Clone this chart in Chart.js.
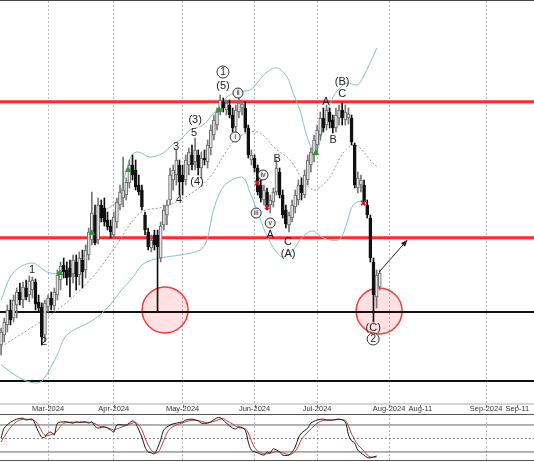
<!DOCTYPE html>
<html>
<head>
<meta charset="utf-8">
<script src="https://cdn.jsdelivr.net/npm/chart.js@4.4.1/dist/chart.umd.min.js"></script>
<style>
  html, body { margin: 0; padding: 0; background: #fff; }
  #wrap { position: relative; width: 534px; height: 462px; overflow: hidden; }
  #mainBox { position: absolute; left: 0; top: 0; width: 534px; height: 403px; border-top: 1px solid #444; box-sizing: border-box; }
  #stochBox { position: absolute; left: 0; top: 403px; width: 534px; height: 59px; }
  canvas { display: block; }
</style>
</head>
<body>
<div id="wrap">
  <div id="mainBox"><canvas id="mainChart" width="534" height="402"></canvas></div>
  <div id="stochBox"><canvas id="stochChart" width="534" height="59"></canvas></div>
</div>
<script>
// daily candles, bar index 0 = first visible day (Feb 9 2024)
const opens = [15.5,16.5,17.5,19.0,18.2,19.5,20.8,20.0,21.2,20.5, 21.0,21.8,19.8,19.3,16.5,19.3,20.2,19.4,20.5,22.0,
  23.5,23.0,23.2,22.6,23.8,22.5,24.0,23.0,24.5,26.0, 28.5,26.0,29.5,29.2,28.0,27.4,26.5,27.8,29.5,30.2,
  30.5,31.7,33.5,33.0,31.5,31.0,28.5,26.8,25.2,26.5, 26.5,24.2,27.5,28.5,30.0,32.0,32.5,33.5,32.5,32.0,
  33.5,34.5,33.8,34.5,33.2,34.2,33.8,35.2,36.5,37.5, 39.0,39.8,39.0,39.5,38.5,37.3,38.8,39.2,39.2,37.2,
  34.0,34.2,33.2,31.5,30.0,30.8,29.5,29.8,30.8,32.8, 30.5,29.0,27.5,28.2,29.3,30.0,31.5,30.5,32.0,33.5,
  34.5,35.5,36.5,38.2,37.5,38.8,38.0,37.2,38.2,39.0, 38.0,38.2,38.2,35.5,31.2,31.5,31.5,29.5,28.2,23.8,
  20.3,21.3];
const highs = [17.2,18.2,19.5,20.0,20.5,21.2,21.7,21.8,22.0,22.4, 22.3,22.1,20.5,19.7,20.0,20.5,20.8,21.2,23.0,23.8,
  24.2,23.8,24.0,24.5,24.5,24.8,25.0,25.5,27.2,30.8, 29.5,30.2,30.0,30.2,28.8,28.0,28.8,30.2,31.5,34.3,
  32.2,34.0,34.5,34.0,32.5,31.5,28.8,27.2,26.5,27.0, 27.0,27.8,29.5,30.0,33.2,33.5,35.0,34.0,33.5,34.5,
  35.2,35.5,36.2,35.0,34.8,35.0,36.0,37.5,38.5,39.2, 40.5,40.2,40.0,40.0,39.2,39.5,40.2,40.0,39.8,37.5,
  35.0,34.5,33.5,32.0,31.5,31.2,30.5,31.2,34.0,33.2, 31.0,29.5,28.8,30.0,31.0,32.0,32.2,33.0,34.5,35.2,
  36.5,37.5,38.8,39.2,39.5,39.2,38.5,39.2,39.5,39.7, 39.5,39.2,38.5,35.7,32.8,32.5,32.0,30.0,28.5,24.2,
  23.0,23.0];
const lows = [14.5,15.8,16.8,17.5,17.8,18.2,19.5,19.2,20.0,19.8, 20.2,19.0,18.8,15.5,15.8,18.8,19.0,19.0,20.0,21.0,
  22.2,21.5,20.3,21.7,21.0,21.5,21.2,22.2,24.0,25.5, 25.5,25.6,27.8,27.4,27.0,26.2,26.1,27.2,29.0,29.3,
  30.0,31.2,32.0,31.0,30.5,29.0,26.5,25.0,24.8,25.0, 18.8,23.8,27.0,27.5,29.5,31.0,31.5,30.5,30.5,31.5,
  32.5,33.0,33.0,32.5,32.2,33.5,33.2,34.5,36.0,37.0, 38.5,38.8,38.5,38.2,36.8,36.5,38.2,38.5,36.8,34.2,
  33.5,32.8,30.5,29.8,29.5,29.0,28.7,29.3,30.5,30.2, 28.2,27.2,26.8,27.8,28.7,29.5,30.0,30.2,31.5,32.8,
  33.8,34.5,36.0,36.8,37.0,37.2,36.7,36.8,37.5,37.5, 37.5,37.6,35.5,31.2,30.7,30.8,29.5,28.2,23.8,17.8,
  19.2,21.0];
const closes = [16.8,17.8,19.0,18.0,20.0,20.8,20.0,21.3,20.3,21.9, 22.0,19.6,19.2,16.3,19.7,20.2,19.5,20.8,22.5,23.4,
  22.8,22.2,22.3,24.0,22.3,24.2,22.8,25.0,26.8,28.7, 25.7,29.5,28.2,27.8,27.3,26.8,28.3,29.8,30.8,31.0,
  31.8,33.5,32.5,31.3,30.8,29.3,27.0,25.3,26.0,25.5, 25.3,27.4,29.0,29.5,32.5,33.0,34.0,31.8,31.8,34.0,
  34.8,33.5,35.0,33.2,34.2,34.0,35.5,37.0,38.0,38.8, 40.0,39.2,39.7,38.5,37.2,39.0,39.7,39.6,37.2,34.5,
  34.5,33.2,30.8,30.2,31.0,29.3,30.0,30.8,33.2,30.5, 28.5,27.6,28.5,29.5,30.5,31.5,30.7,32.5,34.0,34.8,
  36.0,37.0,38.2,37.2,39.0,37.8,37.2,38.5,39.0,38.2, 38.8,38.6,35.8,31.5,32.2,32.0,29.8,28.5,24.2,20.5,
  22.5,22.7];

// Bollinger bands (bar index, price)
const upperDay = [0,3.8,9.9,14.7,18.2,22.7,26.2,27.8,30.7,34.8,37.4,39.6,41.8,43.8,47.6,51.8,54.6,57.2,60.4,64.5,67.7,70,72.2,75.4,79.6,81.8,85,88.2,91.4,93.3,95.5,97.8,99.7,101,102,104.2,106.1,108.3,110.6,113.8,115.7,117.9,120.1];
const upperVal = [20.0,22.7,23.7,22.8,22.7,23.5,24.3,26.0,28.3,29.3,30.0,32.5,34.5,34.8,34.3,34.7,35.5,36.0,37.0,37.5,38.6,39.4,40.3,40.8,41.0,41.7,42.8,43.2,42.3,40.7,39.0,36.3,35.0,35.0,36.0,38.7,40.3,41.2,41.7,41.5,42.3,43.7,45.2];
const midDay = [0,17.9,28.4,35.8,44.4,51.8,57.2,63.6,67.7,72.2,75.4,79.6,82.8,87.5,92.3,96.5,99.7,102,105.1,109.3,112.5,114.7,117.9,120.1];
const midVal = [15.3,19.0,22.0,25.0,28.7,29.3,30.0,31.3,32.7,35.0,36.2,36.8,36.7,35.2,34.0,32.0,31.0,31.3,32.3,34.7,35.5,35.2,34.0,33.3];
const lowerDay = [0,6,10.8,13.4,17.9,21,28.4,31.6,34.8,38,42.2,45.4,50.8,57.2,63.6,65.8,67.7,70,72.2,76.4,78,79.6,81.8,84.4,87.5,90,93.3,95.5,97.8,99.7,102,105.1,108.3,110.6,112.5,115.4,116.6];
const lowerVal = [13.5,12.2,11.7,12.0,14.5,16.5,17.8,18.5,19.5,20.8,22.3,23.6,24.2,24.5,25.0,26.0,28.8,30.8,31.7,32.3,32.0,30.7,29.0,26.8,25.0,24.3,25.0,26.0,26.7,26.9,26.4,26.0,26.1,27.8,29.5,29.9,29.5];

// horizontal levels
const redLevels = [39.83, 26.23];
const blackLevels = [18.8, 11.9];

// highlighted lows (circles) and the projection arrow
const circleDay = [52.4, 120.8];
const circlePrice = [19.0, 18.9];
const arrowDay = [120.8, 129.8];
const arrowPrice = [22.8, 26.0];

// small signal markers
const buyDay = [18.8, 29.0, 40.6, 69.7, 100.6];
const buyPrice = [22.7, 26.7, 33.0, 39.0, 34.7];
const sellDay = [81.8, 85.0, 115.7];
const sellPrice = [31.7, 29.3, 29.7];

// Elliott wave labels: ring 0 = none, 1 = large circle, 2 = small circle
const waveText = ['1','2','3','4','5','(3)','(4)','(5)','1','ii','i','iii','iv','v','A','B','C','(A)','A','B','C','(B)','(C)','2'];
const waveDay = [9.9,13.7,55.9,56.9,61.7,62.0,62.6,70.9,70.9,75.7,74.8,81.5,83.7,86.0,86.0,88.2,91.7,91.7,103.8,106.1,109.0,109.0,118.9,118.9];
const wavePrice = [23.0,15.8,35.3,30.0,36.7,38.0,31.8,41.4,42.8,40.7,36.3,28.7,32.5,27.7,26.5,34.1,25.8,24.6,39.8,36.0,40.6,41.8,17.2,16.1];
const waveRing = [0,0,0,0,0,0,0,0,1,2,2,2,2,2,0,0,0,0,0,0,0,0,0,1];

// time axis
const tickDays = [15, 36, 58, 81, 101, 124, 134, 155, 165];
const tickLabels = ['Mar-2024','Apr-2024','May-2024','Jun-2024','Jul-2024','Aug-2024','Aug-11','Sep-2024','Sep-11'];

// stochastic oscillator
const kDay = [0,1,3,5,7,8,10,11,12,13,14,15,16,17,18,20,21,23,24,25,27,28,29,30,31,33,35,36,37,40,42,43,44,45,46,47,48,49,50,51,52,54,56,58,59,61,63,64,66,67,69,70,71,72,74,75,76,78,79,80,82,84,85,86,87,89,90,92,93,94,95,96,98,99,101,103,104,106,108,110,111,112,113,114,116,117,118,119,120];
const kVal = [51,73,86,93,95,91,93,80,64,53,53,62,64,58,84,87,87,84,87,86,87,84,87,77,73,76,69,64,80,80,89,84,69,53,31,20,18,16,29,47,69,80,84,87,91,93,89,84,84,87,96,96,91,84,73,71,76,69,42,24,18,13,20,18,27,20,13,13,20,31,51,62,73,84,91,93,91,91,93,87,58,45,40,24,13,8,7,9,11];
const dDay = [0,2,4,6,8,10,11,12,13,14,15,16,17,18,19,20,22,24,26,28,29,30,31,32,34,36,37,38,40,42,43,44,45,46,47,48,49,50,51,52,53,54,56,58,60,62,64,66,68,70,71,72,74,76,78,79,80,81,82,84,86,88,90,92,93,94,95,96,98,100,102,104,106,108,110,111,112,113,114,116,117,118,119,120];
const dVal = [42,65,82,91,93,91,88,79,66,57,56,59,61,68,77,84,86,86,86,86,85,83,79,76,74,69,71,74,79,84,86,80,69,51,35,24,18,18,29,46,62,72,80,85,89,91,88,85,88,93,94,90,82,74,72,62,45,30,22,16,17,21,18,14,16,22,33,48,64,78,88,91,91,92,90,78,60,47,36,22,13,9,8,9];

const X_MIN = -0.35, X_MAX = 170.3;
const idx = opens.map((_, i) => i);
const isBull = i => closes[i] >= opens[i];
const pts = (xs, ys) => xs.map((x, i) => ({x: x, y: ys[i]}));
const across = v => [{x: X_MIN - 1, y: v}, {x: X_MAX + 1, y: v}];
const isMonth = v => { const k = tickDays.indexOf(v); return k >= 0 && tickLabels[k].endsWith('2024'); };

const FONT = "'Liberation Sans', Arial, sans-serif";

const hLines = [];
redLevels.forEach(v => hLines.push({type: 'line', data: across(v), borderColor: '#ff2a2a', borderWidth: 3, pointRadius: 0, order: 9}));
blackLevels.forEach(v => hLines.push({type: 'line', data: across(v), borderColor: '#111', borderWidth: 2, pointRadius: 0, order: 9}));

const waveLabels = {
  id: 'waveLabels',
  afterDatasetsDraw(chart) {
    const {ctx, scales: {x, y}} = chart;
    ctx.save();
    ctx.textAlign = 'center';
    ctx.textBaseline = 'middle';
    waveText.forEach((t, i) => {
      const px = x.getPixelForValue(waveDay[i]);
      const py = y.getPixelForValue(wavePrice[i]);
      if (waveRing[i]) {
        const r = waveRing[i] === 1 ? 6 : 5;
        ctx.beginPath();
        ctx.arc(px, py, r, 0, Math.PI * 2);
        ctx.fillStyle = waveRing[i] === 1 ? '#fff' : '#f2f2f2';
        ctx.fill();
        ctx.lineWidth = 1;
        ctx.strokeStyle = '#333';
        ctx.stroke();
        ctx.fillStyle = '#222';
        ctx.font = (waveRing[i] === 1 ? '10px ' : '7px ') + FONT;
        ctx.fillText(t, px, py + 0.5);
      } else {
        ctx.fillStyle = '#222';
        ctx.font = '11px ' + FONT;
        ctx.fillText(t, px, py);
      }
    });
    ctx.restore();
  }
};

const arrowHead = {
  id: 'arrowHead',
  afterDatasetsDraw(chart) {
    const meta = chart.getDatasetMeta(chart.data.datasets.findIndex(d => d.label === 'arrow'));
    const a = meta.data[0], b = meta.data[1];
    const ang = Math.atan2(b.y - a.y, b.x - a.x);
    const {ctx} = chart;
    ctx.save();
    ctx.fillStyle = '#222';
    ctx.beginPath();
    ctx.moveTo(b.x, b.y);
    ctx.lineTo(b.x - 7 * Math.cos(ang - 0.4), b.y - 7 * Math.sin(ang - 0.4));
    ctx.lineTo(b.x - 7 * Math.cos(ang + 0.4), b.y - 7 * Math.sin(ang + 0.4));
    ctx.closePath();
    ctx.fill();
    ctx.restore();
  }
};

new Chart(document.getElementById('mainChart'), {
  type: 'line',
  data: {
    datasets: [
      {type: 'scatter', data: pts(circleDay, circlePrice), pointRadius: 23, pointHoverRadius: 23,
       backgroundColor: 'rgba(255,70,70,0.16)', borderColor: '#f23c3c', borderWidth: 1.5, order: 10},
      ...hLines,
      {data: pts(upperDay, upperVal), borderColor: '#88c2c2', borderWidth: 1, pointRadius: 0, tension: 0.35, order: 8},
      {data: pts(lowerDay, lowerVal), borderColor: '#88c2c2', borderWidth: 1, pointRadius: 0, tension: 0.35, order: 8},
      {data: pts(midDay, midVal), borderColor: '#999', borderWidth: 1, borderDash: [2, 2], pointRadius: 0, tension: 0.35, order: 8},
      {type: 'bar', data: idx.map(i => ({x: i, y: [lows[i], highs[i]]})), grouped: false, barThickness: 1,
       backgroundColor: idx.map(i => isBull(i) ? '#777' : '#111'), borderWidth: 0, order: 5},
      {type: 'bar', data: idx.map(i => ({x: i, y: [opens[i], closes[i]]})), grouped: false, barThickness: 3,
       backgroundColor: idx.map(i => isBull(i) ? '#e8e8e8' : '#111'),
       borderColor: idx.map(i => isBull(i) ? '#666' : '#111'), borderWidth: 1, borderSkipped: false, order: 4},
      {type: 'scatter', data: pts(buyDay, buyPrice), pointStyle: 'triangle', pointRadius: 3,
       backgroundColor: '#2f9a2f', borderColor: '#2f9a2f', order: 2},
      {type: 'scatter', data: pts(sellDay, sellPrice), pointStyle: 'crossRot', pointRadius: 3,
       borderColor: '#e02020', borderWidth: 1.5, order: 2},
      {label: 'arrow', data: pts(arrowDay, arrowPrice), borderColor: '#222', borderWidth: 1, pointRadius: 0, order: 1}
    ]
  },
  options: {
    responsive: false,
    animation: false,
    events: [],
    layout: {padding: 0, autoPadding: false},
    plugins: {legend: {display: false}, tooltip: {enabled: false}},
    scales: {
      x: {
        type: 'linear', min: X_MIN, max: X_MAX, offset: false,
        afterBuildTicks: axis => { axis.ticks = tickDays.map(v => ({value: v})); },
        ticks: {display: false},
        grid: {offset: false, drawTicks: false, color: c => c.tick && isMonth(c.tick.value) ? '#b8b8b8' : 'rgba(0,0,0,0)', lineWidth: 1},
        border: {display: false, dash: [2, 2]}
      },
      y: {type: 'linear', min: 9.7, max: 49.9, display: false, beginAtZero: false}
    }
  },
  plugins: [arrowHead, waveLabels]
});

const timeStrip = {
  id: 'timeStrip',
  beforeDraw(chart) {
    const {ctx} = chart;
    ctx.save();
    ctx.fillStyle = '#d4d4d4';
    ctx.fillRect(0, 0, chart.width, 2);
    ctx.restore();
  },
  afterDraw(chart) {
    const {ctx, chartArea, scales: {x}} = chart;
    ctx.save();
    ctx.strokeStyle = '#666';
    ctx.lineWidth = 1;
    tickDays.forEach(v => {
      const px = Math.round(x.getPixelForValue(v)) + 0.5;
      ctx.beginPath();
      ctx.moveTo(px, 2);
      ctx.lineTo(px, 5);
      ctx.stroke();
    });
    // panel frame, top and bottom
    ctx.strokeStyle = '#555';
    ctx.beginPath();
    ctx.moveTo(0, chartArea.top + 0.5);
    ctx.lineTo(chart.width, chartArea.top + 0.5);
    ctx.moveTo(0, chartArea.bottom - 1.5);
    ctx.lineTo(chart.width, chartArea.bottom - 1.5);
    ctx.stroke();
    ctx.restore();
  }
};

new Chart(document.getElementById('stochChart'), {
  type: 'line',
  data: {
    datasets: [
      {data: across(80), borderColor: '#666', borderWidth: 1, pointRadius: 0, order: 5},
      {data: across(20), borderColor: '#666', borderWidth: 1, pointRadius: 0, order: 5},
      {data: across(50), borderColor: '#777', borderWidth: 1, borderDash: [2, 2], pointRadius: 0, order: 5},
      {data: pts(dDay, dVal), borderColor: '#c43b3b', borderWidth: 1, pointRadius: 0, tension: 0.3, order: 2},
      {data: pts(kDay, kVal), borderColor: '#1a1a1a', borderWidth: 1, pointRadius: 0, tension: 0.3, order: 1}
    ]
  },
  options: {
    responsive: false,
    animation: false,
    events: [],
    layout: {padding: 0, autoPadding: false},
    plugins: {legend: {display: false}, tooltip: {enabled: false}},
    scales: {
      x: {
        type: 'linear', position: 'top', min: X_MIN, max: X_MAX,
        afterBuildTicks: axis => { axis.ticks = tickDays.map(v => ({value: v})); },
        afterFit: axis => { axis.height = 11; },
        ticks: {
          autoSkip: false, maxRotation: 0, padding: 1, color: '#333',
          font: {size: 7.5, family: FONT},
          callback: v => tickLabels[tickDays.indexOf(v)]
        },
        grid: {drawTicks: false, color: c => c.tick && isMonth(c.tick.value) ? '#b8b8b8' : 'rgba(0,0,0,0)', lineWidth: 1},
        border: {display: false, dash: [2, 2]}
      },
      y: {type: 'linear', min: -2.3, max: 104.4, display: false}
    }
  },
  plugins: [timeStrip]
});
</script>
</body>
</html>
